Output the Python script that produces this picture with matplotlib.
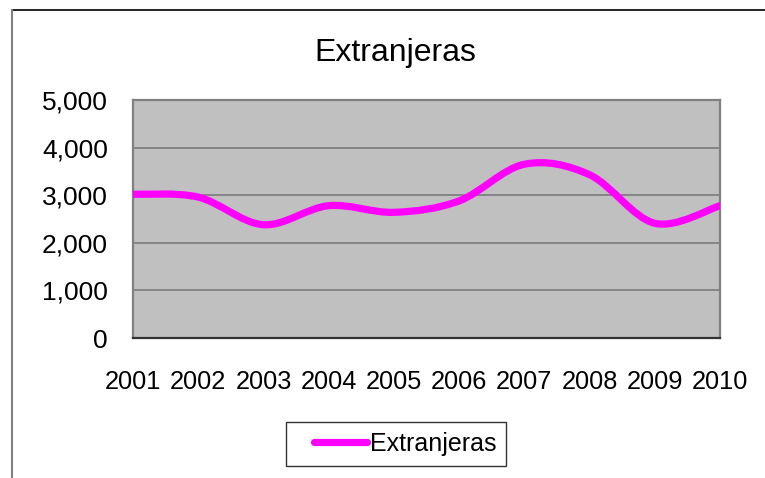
import numpy as np
import matplotlib
matplotlib.use('Agg')
import matplotlib.pyplot as plt
from matplotlib.path import Path
from matplotlib.patches import PathPatch
from matplotlib.lines import Line2D
from matplotlib.legend_handler import HandlerLine2D
from matplotlib.ticker import StrMethodFormatter

plt.rcParams['font.family'] = ['Liberation Sans', 'DejaVu Sans']

years = ['2001', '2002', '2003', '2004', '2005', '2006', '2007', '2008', '2009', '2010']
extranjeras = [3020, 2960, 2380, 2780, 2640, 2880, 3650, 3430, 2410, 2780]
yticks = [0, 1000, 2000, 3000, 4000, 5000]


def smooth_path(xs, ys):
    # Excel-style smoothed line: cubic bezier through every point (Catmull-Rom)
    pts = np.column_stack([xs, ys]).astype(float)
    ext = np.vstack([pts[0], pts, pts[-1]])
    verts = [pts[0]]
    codes = [Path.MOVETO]
    for i in range(len(pts) - 1):
        p0, p1, p2, p3 = ext[i], ext[i + 1], ext[i + 2], ext[i + 3]
        verts += [p1 + (p2 - p0) / 6, p2 - (p3 - p1) / 6, p2]
        codes += [Path.CURVE4] * 3
    return Path(verts, codes)


fig = plt.figure(figsize=(7.65, 4.78), dpi=100)
W, H = 765, 478

# outer chart border (runs off the right/bottom of the picture)
fig.add_artist(Line2D([12 / W, 1], [1 - 10 / H, 1 - 10 / H], color='black', lw=1.2))
fig.add_artist(Line2D([12 / W, 12 / W], [0, 1 - 10 / H], color='#808080', lw=1.5))

ax = fig.add_axes([133 / W, 1 - 338 / H, 587 / W, 238 / H])
ax.set_facecolor('#C0C0C0')

x = np.arange(len(years))
patch = PathPatch(smooth_path(x, extranjeras), facecolor='none', edgecolor='#FF00FF',
                  lw=5.2, capstyle='round', joinstyle='round', zorder=3)
ax.add_patch(patch)

ax.set_xlim(0, len(years) - 1)
ax.set_ylim(0, 5000)
ax.set_xticks(x)
ax.set_xticklabels(years)
ax.set_yticks(yticks)
ax.yaxis.set_major_formatter(StrMethodFormatter('{x:,.0f}'))
ax.tick_params(axis='x', length=0, pad=23, labelsize=18.3)
ax.tick_params(axis='y', length=0, pad=18, labelsize=19)
ax.grid(axis='y', color='#808080', lw=1.3)
ax.set_axisbelow(True)
for s in ['left', 'top', 'right']:
    ax.spines[s].set_color('#808080')
    ax.spines[s].set_linewidth(1.6)
ax.spines['bottom'].set_color('#333333')
ax.spines['bottom'].set_linewidth(1.6)

fig.text(395.5 / W, 1 - 61 / H, 'Extranjeras', ha='center', va='baseline', fontsize=23)

handle = Line2D([], [], color='#FF00FF', lw=5.2, solid_capstyle='round')
leg = fig.legend([handle], ['Extranjeras'], loc='center',
                 bbox_to_anchor=(396 / W, 1 - 444 / H), fontsize=18,
                 frameon=True, fancybox=False, shadow=False, edgecolor='black',
                 handlelength=2.85, handletextpad=0.12, borderpad=0.4,
                 borderaxespad=0,
                 handler_map={Line2D: HandlerLine2D(xpad=0.72)})
leg.get_frame().set_linewidth(1.0)

fig.savefig('out.png', dpi=100)
